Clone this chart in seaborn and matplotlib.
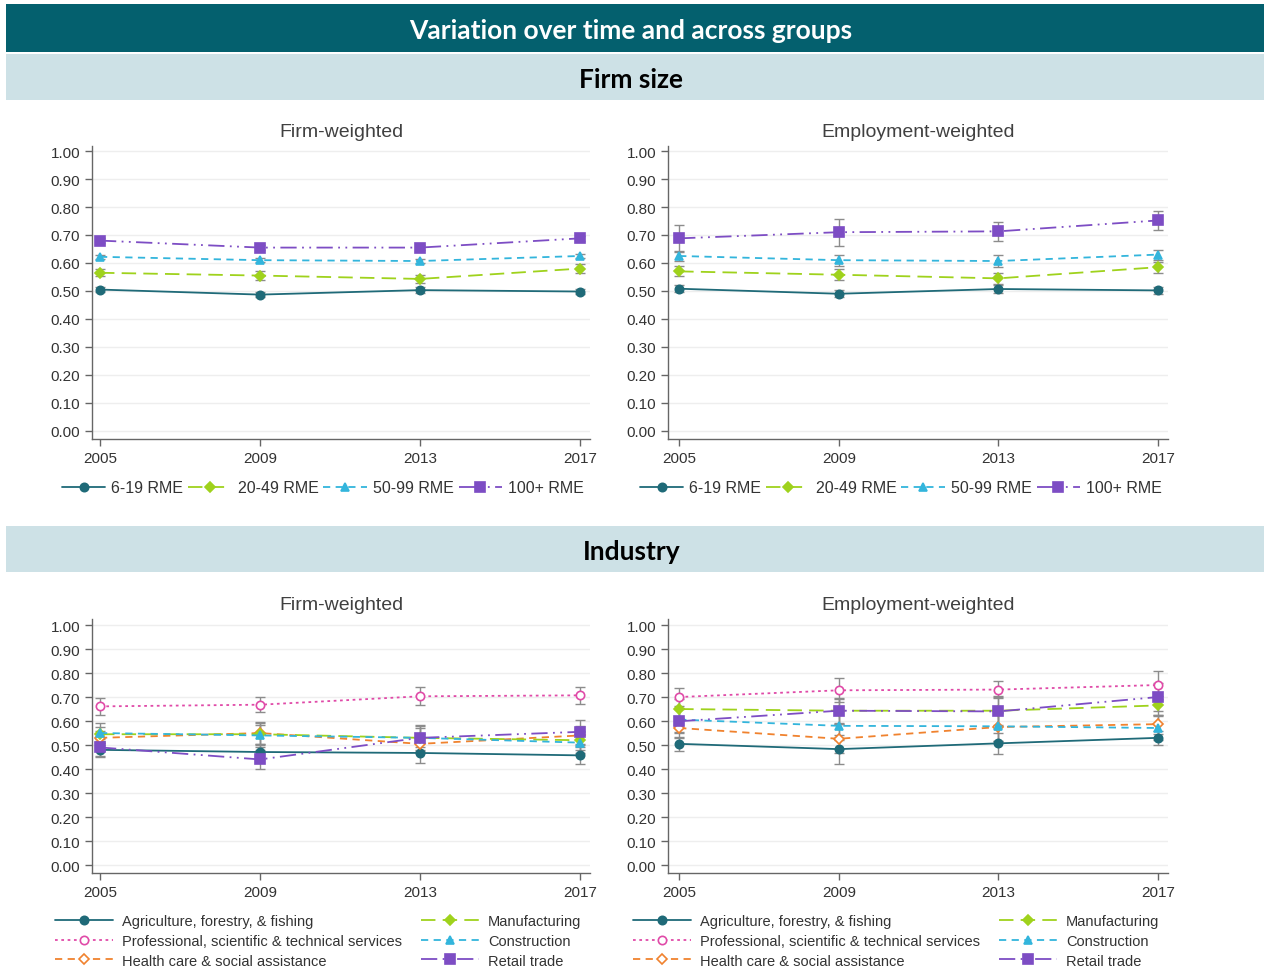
import matplotlib
matplotlib.use("Agg")
import matplotlib.pyplot as plt
import matplotlib.patches as patches
from matplotlib.ticker import FormatStrFormatter
import seaborn as sns
import pandas as pd

years = [2005, 2009, 2013, 2017]

# Firm size series
size_names = ["6-19 RME", "20-49 RME", "50-99 RME", "100+ RME"]
size_firm = {
    "6-19 RME": [0.505, 0.487, 0.503, 0.498],
    "20-49 RME": [0.565, 0.555, 0.543, 0.580],
    "50-99 RME": [0.622, 0.610, 0.607, 0.625],
    "100+ RME": [0.680, 0.655, 0.655, 0.688],
}
size_firm_err = {
    "6-19 RME": [0.008, 0.008, 0.010, 0.008],
    "20-49 RME": [0.012, 0.015, 0.015, 0.015],
    "50-99 RME": [0.008, 0.008, 0.008, 0.008],
    "100+ RME": [0.008, 0.008, 0.008, 0.008],
}
size_emp = {
    "6-19 RME": [0.508, 0.490, 0.507, 0.502],
    "20-49 RME": [0.570, 0.558, 0.545, 0.585],
    "50-99 RME": [0.625, 0.610, 0.607, 0.630],
    "100+ RME": [0.688, 0.710, 0.713, 0.752],
}
size_emp_err = {
    "6-19 RME": [0.012, 0.012, 0.015, 0.012],
    "20-49 RME": [0.018, 0.020, 0.020, 0.020],
    "50-99 RME": [0.018, 0.020, 0.020, 0.018],
    "100+ RME": [0.047, 0.048, 0.033, 0.035],
}

# Industry series
ind_names = ["Agriculture, forestry, & fishing",
             "Professional, scientific & technical services",
             "Health care & social assistance",
             "Manufacturing", "Construction", "Retail trade"]
ind_firm = {
    "Agriculture, forestry, & fishing": [0.480, 0.471, 0.467, 0.457],
    "Professional, scientific & technical services": [0.661, 0.668, 0.703, 0.707],
    "Health care & social assistance": [0.530, 0.550, 0.505, 0.540],
    "Manufacturing": [0.545, 0.545, 0.530, 0.520],
    "Construction": [0.550, 0.540, 0.530, 0.510],
    "Retail trade": [0.490, 0.440, 0.530, 0.555],
}
ind_firm_err = {
    "Agriculture, forestry, & fishing": [0.030, 0.030, 0.040, 0.035],
    "Professional, scientific & technical services": [0.035, 0.032, 0.038, 0.035],
    "Health care & social assistance": [0.030, 0.045, 0.040, 0.040],
    "Manufacturing": [0.030, 0.040, 0.040, 0.040],
    "Construction": [0.040, 0.050, 0.050, 0.045],
    "Retail trade": [0.035, 0.040, 0.055, 0.050],
}
ind_emp = {
    "Agriculture, forestry, & fishing": [0.505, 0.483, 0.507, 0.530],
    "Professional, scientific & technical services": [0.700, 0.728, 0.731, 0.750],
    "Health care & social assistance": [0.571, 0.526, 0.575, 0.587],
    "Manufacturing": [0.650, 0.643, 0.643, 0.665],
    "Construction": [0.606, 0.580, 0.578, 0.571],
    "Retail trade": [0.599, 0.643, 0.640, 0.700],
}
ind_emp_err = {
    "Agriculture, forestry, & fishing": [0.030, 0.060, 0.045, 0.030],
    "Professional, scientific & technical services": [0.038, 0.050, 0.035, 0.060],
    "Health care & social assistance": [0.040, 0.060, 0.060, 0.040],
    "Manufacturing": [0.040, 0.050, 0.060, 0.040],
    "Construction": [0.050, 0.060, 0.060, 0.050],
    "Retail trade": [0.050, 0.055, 0.060, 0.060],
}

styles = {
    "6-19 RME": dict(color="#1f6a78", marker="o", ls="-", mfc=None, ms=6),
    "20-49 RME": dict(color="#9fd21c", marker="D", ls=(0, (8, 4)), mfc=None, ms=5.5),
    "50-99 RME": dict(color="#33b5dc", marker="^", ls=(0, (4, 3)), mfc=None, ms=6),
    "100+ RME": dict(color="#7d4dc4", marker="s", ls=(0, (9, 3, 1, 3, 1, 3)), mfc=None, ms=6.5),
    "Agriculture, forestry, & fishing": dict(color="#1f6a78", marker="o", ls="-", mfc=None, ms=6),
    "Professional, scientific & technical services": dict(color="#e04aa8", marker="o", ls=(0, (1.5, 2)), mfc="white", ms=6),
    "Health care & social assistance": dict(color="#f0822e", marker="D", ls=(0, (4, 3)), mfc="white", ms=5.5),
    "Manufacturing": dict(color="#9fd21c", marker="D", ls=(0, (8, 4)), mfc=None, ms=5.5),
    "Construction": dict(color="#33b5dc", marker="^", ls=(0, (4, 3)), mfc=None, ms=6),
    "Retail trade": dict(color="#7d4dc4", marker="s", ls=(0, (9, 3, 1, 3, 1, 3)), mfc=None, ms=6.5),
}

sns.set_theme(style="white")
plt.rcParams["font.family"] = ["Liberation Sans", "DejaVu Sans"]
TXT = "#333333"

fig = plt.figure(figsize=(12.7, 9.79), dpi=100)

# Banners
def banner(y0_px, y1_px, color, text, tcolor, family):
    H = 979.0
    fig.add_artist(patches.Rectangle((6 / 1270, 1 - y1_px / H), 1258 / 1270, (y1_px - y0_px) / H,
                                     transform=fig.transFigure, facecolor=color, edgecolor="none"))
    fig.text(0.497, 1 - (y0_px + y1_px + 4) / 2 / H, text, ha="center", va="center", color=tcolor,
             fontsize=19, fontweight="bold", family=family)

banner(5, 53, "#04606e", "Variation over time and across groups", "white", ["Lato", "DejaVu Sans"])
banner(55, 101, "#cde1e6", "Firm size", "black", ["Lato", "DejaVu Sans"])
banner(527, 573, "#cde1e6", "Industry", "black", ["Lato", "DejaVu Sans"])


def make_axes(x0, x1, y_top, y_bot):
    H = 979.0
    return fig.add_axes([x0 / 1270, 1 - y_bot / H, (x1 - x0) / 1270, (y_bot - y_top) / H])


def draw_panel(ax, names, vals, errs, title, ylim, xlim):
    for name in names:
        st = styles[name]
        df = pd.DataFrame({"year": years, "value": vals[name]})
        ax.errorbar(years, vals[name], yerr=errs[name], fmt="none", ecolor="#8c8c8c",
                    elinewidth=1, capsize=3.5, capthick=1, zorder=2)
        kw = dict(markeredgecolor=st["color"], markersize=st["ms"], markeredgewidth=1.2)
        if st["mfc"] is not None:
            kw["markerfacecolor"] = st["mfc"]
        sns.lineplot(data=df, x="year", y="value", ax=ax, color=st["color"], marker=st["marker"],
                     linestyle=st["ls"], linewidth=1.3, label=name, zorder=3, **kw)
    ax.set_xlim(*xlim)
    ax.set_ylim(*ylim)
    ax.set_xticks(years)
    ax.set_yticks([i / 10 for i in range(11)])
    ax.yaxis.set_major_formatter(FormatStrFormatter("%.2f"))
    ax.grid(axis="y", color="#eeeeee", linewidth=1)
    ax.grid(axis="x", visible=False)
    ax.set_xlabel("")
    ax.set_ylabel("")
    ax.set_title(title, fontsize=14, color="#404040", pad=7)
    for s in ["top", "right"]:
        ax.spines[s].set_visible(False)
    for s in ["left", "bottom"]:
        ax.spines[s].set_color("#666666")
        ax.spines[s].set_linewidth(1)
    ax.tick_params(axis="both", which="both", direction="out", length=5, width=1,
                   color="#666666", labelcolor=TXT, labelsize=11, left=True, bottom=True)
    ax.get_legend().remove()


# Top panels
ax1 = make_axes(92, 590, 147, 440)
draw_panel(ax1, size_names, size_firm, size_firm_err, "Firm-weighted", (-0.029, 1.018), (2004.8, 2017.25))
ax2 = make_axes(668, 1168, 147, 440)
draw_panel(ax2, size_names, size_emp, size_emp_err, "Employment-weighted", (-0.029, 1.018), (2004.72, 2017.25))

for ax, cx in [(ax1, 323), (ax2, 901)]:
    h, l = ax.get_legend_handles_labels()
    ax.legend(h, l, loc="center", bbox_to_anchor=(cx / 1270, 1 - 489 / 979),
              bbox_transform=fig.transFigure, ncol=4, frameon=False, fontsize=11.5,
              handlelength=2.7, handletextpad=0.4, columnspacing=0.3, labelcolor=TXT)

# Bottom panels
ax3 = make_axes(92, 590, 620, 874)
draw_panel(ax3, ind_names, ind_firm, ind_firm_err, "Firm-weighted", (-0.033, 1.025), (2004.8, 2017.25))
ax4 = make_axes(668, 1168, 620, 874)
draw_panel(ax4, ind_names, ind_emp, ind_emp_err, "Employment-weighted", (-0.033, 1.025), (2004.72, 2017.25))

for ax, cx in [(ax3, 318), (ax4, 896)]:
    h, l = ax.get_legend_handles_labels()
    ax.legend(h, l, loc="center", bbox_to_anchor=(cx / 1270, 1 - 942 / 979),
              bbox_transform=fig.transFigure, ncol=2, frameon=False, fontsize=10.5,
              handlelength=4.0, handletextpad=0.6, columnspacing=1.3, labelspacing=0.38,
              labelcolor=TXT)

fig.savefig("out.png", dpi=100)
